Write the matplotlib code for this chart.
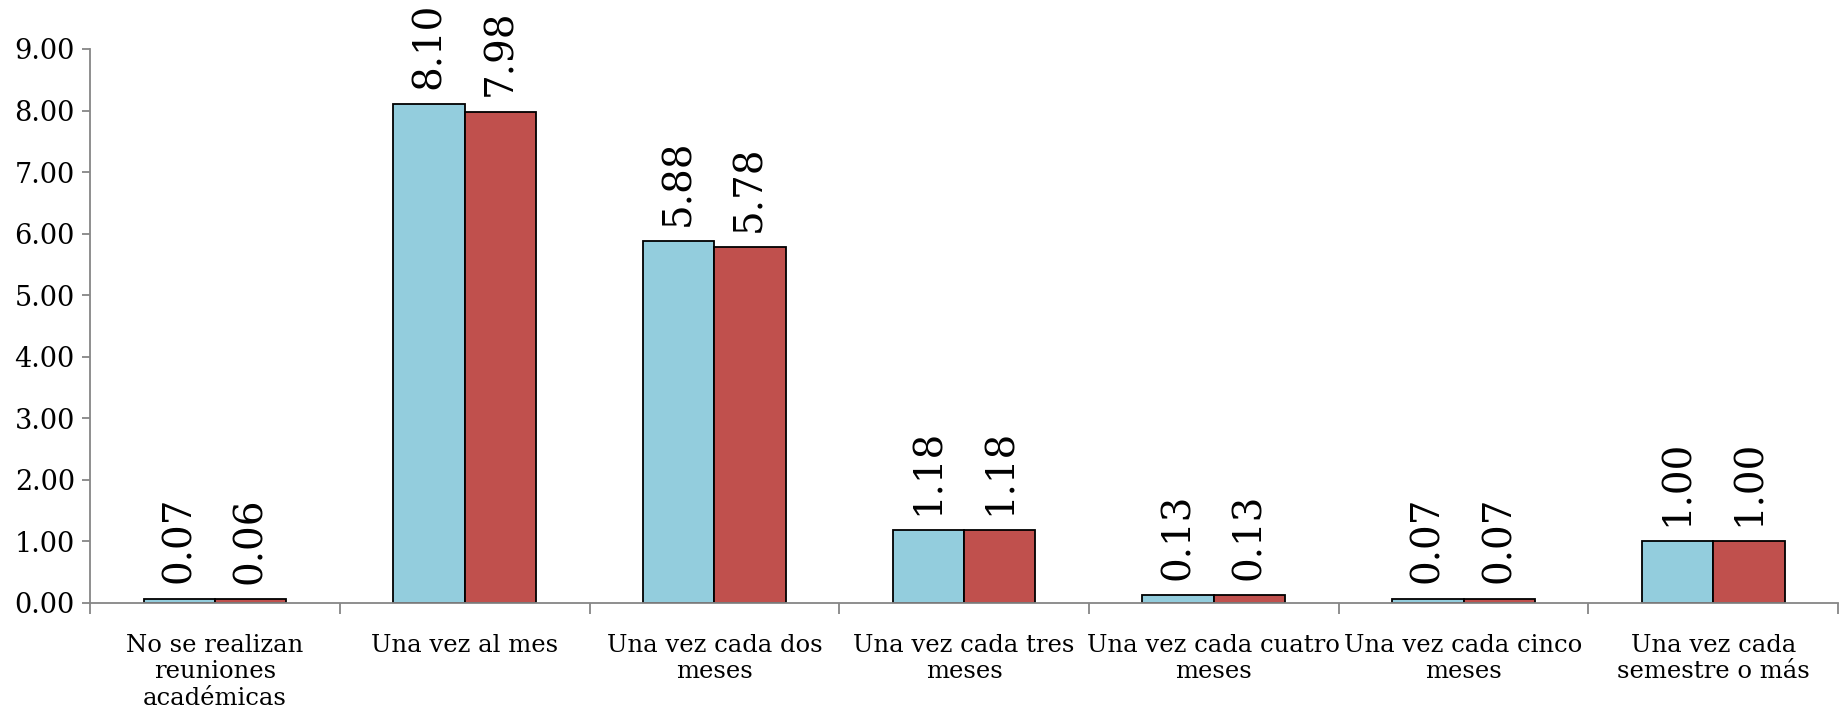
import numpy as np
import matplotlib.pyplot as plt
import matplotlib as mpl

categorias = ['No se realizan\nreuniones\nacadémicas', 'Una vez al mes',
              'Una vez cada dos\nmeses', 'Una vez cada tres\nmeses',
              'Una vez cada cuatro\nmeses', 'Una vez cada cinco\nmeses',
              'Una vez cada\nsemestre o más']
serie1 = [0.07, 8.10, 5.88, 1.18, 0.13, 0.07, 1.00]
serie2 = [0.06, 7.98, 5.78, 1.18, 0.13, 0.07, 1.00]
yticks = np.arange(0, 10, 1)

azul = '#93CDDD'
rojo = '#C0504D'
gris = '#868686'

mpl.rcParams['font.family'] = 'DejaVu Serif'
fig = plt.figure(figsize=(18.39, 7.13), dpi=100)
ax = fig.add_axes([0.049, 0.1543, 0.9505, 0.777])

x = np.arange(len(categorias))
w = 1 / 3.5
b1 = ax.bar(x - w/2, serie1, w, color=azul, edgecolor='black', linewidth=1.3)
b2 = ax.bar(x + w/2, serie2, w, color=rojo, edgecolor='black', linewidth=1.3)

for bars, vals in ((b1, serie1), (b2, serie2)):
    for r, v in zip(bars, vals):
        ax.annotate('%.2f' % v, (r.get_x() + r.get_width()/2, r.get_height()),
                    xytext=(0, 11), textcoords='offset points',
                    rotation=90, ha='center', va='bottom', fontsize=28,
                    annotation_clip=False)

ax.set_xlim(-0.5, len(categorias) - 0.5)
ax.set_ylim(0, 9)
ax.set_yticks(yticks)
ax.set_yticklabels(['%.2f' % t for t in yticks], fontsize=19.5)

ax.set_xticks(x)
ax.set_xticklabels(categorias, fontsize=17.5, linespacing=1.22)
ax.set_xticks(np.arange(-0.5, len(categorias)), minor=True)
ax.tick_params(axis='x', which='major', length=0, pad=22)
ax.tick_params(axis='x', which='minor', length=8, color=gris, width=1.3)
ax.tick_params(axis='y', length=6, color=gris, width=1.3, pad=5)

for s in ('top', 'right'):
    ax.spines[s].set_visible(False)
for s in ('left', 'bottom'):
    ax.spines[s].set_color(gris)
    ax.spines[s].set_linewidth(1.3)

fig.savefig('out.png', dpi=100)
